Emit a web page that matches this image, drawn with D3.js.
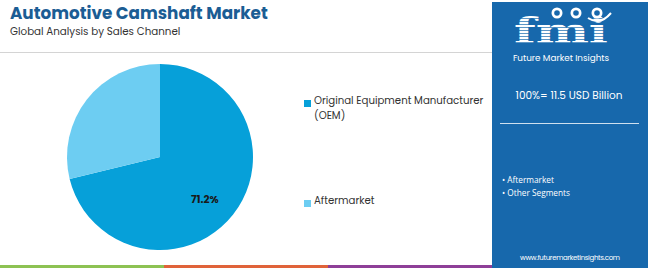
<!DOCTYPE html>
<html>
<head>
<meta charset="utf-8">
<script src="https://cdn.jsdelivr.net/npm/d3@7"></script>
<style>
  body { margin: 0; background: #fff; }
  svg { display: block; font-family: Poppins, "Open Sans", Roboto, sans-serif; }
</style>
</head>
<body>
<svg id="chart" width="650" height="268"></svg>
<script>
'use strict';

// data
var categories = ['Original Equipment Manufacturer (OEM)', 'Aftermarket'];
var shares = [71.2, 28.8];
var legendLines = [['Original Equipment Manufacturer', '(OEM)'], ['Aftermarket']];
var panelTotal = '100%= 11.5 USD Billion';
var panelBullets = ['Aftermarket', 'Other Segments'];
var stripeColors = ['#8dc253', '#e0633a', '#8e3f98'];

var COLORS = ['#06a0d9', '#6dcdf2'],
  PANEL_BLUE = '#1768ac';

var svg = d3.select('#chart');

// title
svg.append('text')
  .attr('x', 10).attr('y', 18.5)
  .attr('font-size', 16.8).attr('font-weight', 700)
  .attr('fill', '#1b5d94')
  .text('Automotive Camshaft Market');

svg.append('text')
  .attr('x', 10).attr('y', 35)
  .attr('font-size', 10.3).attr('fill', '#333')
  .text('Global Analysis by Sales Channel');

svg.append('line')
  .attr('x1', 0).attr('x2', 492)
  .attr('y1', 52.5).attr('y2', 52.5)
  .attr('stroke', '#d4d4d4').attr('stroke-width', 1);

// pie
var pie = d3.pie().sort(null).value(function(d) { return d; });
var arcs = pie(shares);
var R = 93;
var arc = d3.arc().innerRadius(0).outerRadius(R);
var labelArc = d3.arc().innerRadius(R * 0.68).outerRadius(R * 0.68);

var pieG = svg.append('g').attr('transform', 'translate(160,157)');

pieG.selectAll('path')
  .data(arcs)
  .enter().append('path')
  .attr('d', arc)
  .attr('fill', function(d, i) { return COLORS[i]; });

pieG.selectAll('.slice-label')
  .data(arcs.filter(function(d) { return d.value > 50; }))
  .enter().append('text')
  .attr('class', 'slice-label')
  .attr('transform', function(d) {
    var c = labelArc.centroid(d);
    return 'translate(' + (c[0] - 5) + ',' + (c[1] + 3) + ')';
  })
  .attr('text-anchor', 'middle')
  .attr('dy', '0.35em')
  .attr('font-size', 10.5).attr('font-weight', 700)
  .attr('fill', '#1a1a1a')
  .text(function(d) { return d.value.toFixed(1) + '%'; });

// legend
var legendY = d3.scalePoint().domain(categories).range([104, 204]);

var legend = svg.selectAll('.legend')
  .data(categories)
  .enter().append('g')
  .attr('class', 'legend')
  .attr('transform', function(d) { return 'translate(304,' + legendY(d) + ')'; });

legend.append('rect')
  .attr('x', 0).attr('y', -4)
  .attr('width', 7).attr('height', 7)
  .attr('fill', function(d, i) { return COLORS[i]; });

legend.append('text')
  .attr('x', 10).attr('y', 0)
  .attr('dy', '0.35em')
  .attr('font-size', 10.2).attr('fill', '#333')
  .selectAll('tspan')
  .data(function(d, i) { return legendLines[i]; })
  .enter().append('tspan')
  .attr('x', 10)
  .attr('dy', function(d, j) { return j === 0 ? 0 : 15; })
  .text(function(d) { return d; });

// bottom stripes
var stripeX = d3.scaleBand().domain(d3.range(stripeColors.length)).range([0, 492]);
svg.selectAll('.stripe')
  .data(stripeColors)
  .enter().append('rect')
  .attr('x', function(d, i) { return stripeX(i); })
  .attr('y', 265)
  .attr('width', stripeX.bandwidth())
  .attr('height', 3)
  .attr('fill', function(d) { return d; });

// right panel
var panel = svg.append('g');
panel.append('rect')
  .attr('x', 492).attr('y', 2)
  .attr('width', 156).attr('height', 266)
  .attr('fill', PANEL_BLUE);

// fmi logo
var logo = panel.append('g');
logo.append('text')
  .attr('x', 561).attr('y', 43)
  .attr('text-anchor', 'middle')
  .attr('font-family', '"DejaVu Serif", serif')
  .attr('font-size', 36).attr('font-weight', 700)
  .attr('fill', '#fff')
  .attr('textLength', 94)
  .attr('lengthAdjust', 'spacingAndGlyphs')
  .text('fmi');
// stripe the letters
d3.range(15, 45, 3).forEach(function(y) {
  logo.append('line')
    .attr('x1', 512).attr('x2', 612)
    .attr('y1', y + 0.5).attr('y2', y + 0.5)
    .attr('stroke', PANEL_BLUE).attr('stroke-width', 0.7);
});
[557, 576, 597].forEach(function(cx) {
  logo.append('circle')
    .attr('cx', cx).attr('cy', 13).attr('r', 5.5)
    .attr('fill', '#fff');
  logo.append('circle')
    .attr('cx', cx).attr('cy', 13).attr('r', 2.8)
    .attr('fill', PANEL_BLUE);
});
logo.append('path')
  .attr('d', 'M588,18 Q600,26 611,13')
  .attr('fill', 'none').attr('stroke', '#fff').attr('stroke-width', 2);
logo.append('text')
  .attr('x', 561).attr('y', 61)
  .attr('text-anchor', 'middle')
  .attr('font-size', 8.8).attr('fill', '#fff')
  .text('Future Market Insights');

panel.append('text')
  .attr('x', 569).attr('y', 99)
  .attr('text-anchor', 'middle')
  .attr('font-size', 10.5).attr('fill', '#fff')
  .text(panelTotal);

panel.append('line')
  .attr('x1', 500).attr('x2', 639)
  .attr('y1', 123.5).attr('y2', 123.5)
  .attr('stroke', '#cfe0ef').attr('stroke-width', 1);

panel.selectAll('.bullet')
  .data(panelBullets)
  .enter().append('text')
  .attr('class', 'bullet')
  .attr('x', 502)
  .attr('y', function(d, i) { return 183 + i * 13; })
  .attr('font-family', '"Open Sans", sans-serif')
  .attr('font-size', 8.3).attr('fill', '#fff')
  .text(function(d) { return '\u2022 ' + d; });

panel.append('text')
  .attr('x', 570).attr('y', 260)
  .attr('text-anchor', 'middle')
  .attr('font-size', 7).attr('fill', '#fff')
  .attr('textLength', 100)
  .text('www.futuremarketinsights.com');
</script>
</body>
</html>
